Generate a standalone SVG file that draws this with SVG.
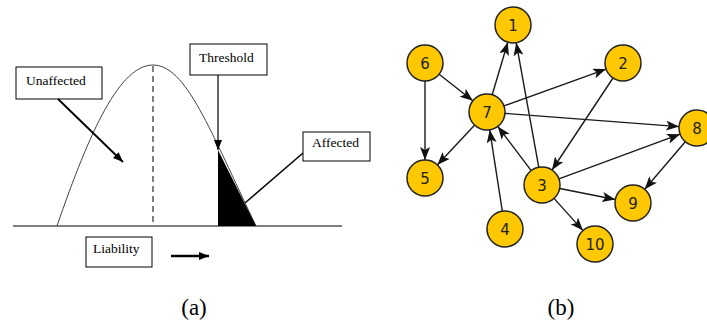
<svg xmlns="http://www.w3.org/2000/svg" width="707" height="326" viewBox="0 0 707 326">
<style>
.lbl{font-family:"Liberation Serif","Times New Roman",serif;font-size:13.5px;fill:#000}
.box{fill:#fff;stroke:#000;stroke-width:1}
.node circle{fill:#FFC800;stroke:#222;stroke-width:1.5}
.node text{font-family:"DejaVu Sans",sans-serif;font-size:15px;fill:#222;text-anchor:middle}
.edge{stroke:#1a1a1a;stroke-width:1.4;fill:none;marker-end:url(#ah)}
.cap{font-family:"Liberation Serif","Times New Roman",serif;font-size:23px;fill:#000;text-anchor:middle}
</style>
<defs>
<marker id="ah" markerUnits="userSpaceOnUse" markerWidth="14" markerHeight="11" refX="13" refY="5" orient="auto">
<path d="M0,0 L13,5 L0,10 L3,5 z" fill="#111"/>
</marker>
<marker id="ah2" markerUnits="userSpaceOnUse" markerWidth="12" markerHeight="10" refX="10" refY="4" orient="auto">
<path d="M0,0 L10,4 L0,8 z" fill="#000"/>
</marker>
</defs>
<rect width="707" height="326" fill="#fff"/>
<g id="panel-a">
<line x1="13" y1="226" x2="342" y2="226" stroke="#000" stroke-width="1"/>
<path d="M57,226 C90,130 120,65 153,65 C186,65 210,130 256,226" fill="none" stroke="#444" stroke-width="1"/>
<line x1="153" y1="66" x2="153" y2="226" stroke="#000" stroke-width="1" stroke-dasharray="6,4"/>
<polygon points="218,150 256,226 218,226" fill="#000"/>
<g id="threshold">
<rect class="box" x="190" y="44" width="77" height="31"/>
<text class="lbl" x="199" y="62">Threshold</text>
<line x1="218" y1="75" x2="218" y2="150" stroke="#000" stroke-width="1.2" marker-end="url(#ah2)"/>
</g>
<g id="unaffected">
<rect class="box" x="16" y="67" width="86" height="32"/>
<text class="lbl" x="26" y="85">Unaffected</text>
<line x1="58" y1="99" x2="123" y2="162" stroke="#000" stroke-width="1.8" marker-end="url(#ah2)"/>
</g>
<g id="affected">
<rect class="box" x="303" y="132" width="67" height="29"/>
<text class="lbl" x="312" y="147">Affected</text>
<line x1="303" y1="153" x2="245" y2="203" stroke="#000" stroke-width="1.5"/>
</g>
<g id="liability">
<rect class="box" x="86" y="237" width="66" height="30"/>
<text class="lbl" x="93" y="253">Liability</text>
<line x1="171" y1="256" x2="209" y2="256" stroke="#000" stroke-width="2.5" marker-end="url(#ah2)"/>
</g>
</g>
<g id="edges">
<line class="edge" x1="439.1" y1="74.2" x2="472.9" y2="100.8"/>
<line class="edge" x1="425" y1="81" x2="425" y2="160"/>
<line class="edge" x1="492.2" y1="94.8" x2="507.8" y2="42.2"/>
<line class="edge" x1="503.9" y1="105.9" x2="606.1" y2="69.1"/>
<line class="edge" x1="504.9" y1="113.4" x2="679.1" y2="126.6"/>
<line class="edge" x1="474.7" y1="125.1" x2="437.3" y2="164.9"/>
<line class="edge" x1="613" y1="78" x2="552" y2="170"/>
<line class="edge" x1="538.8" y1="167.3" x2="516.2" y2="42.7"/>
<line class="edge" x1="531.2" y1="170.6" x2="497.8" y2="126.4"/>
<line class="edge" x1="558.9" y1="178.8" x2="680.1" y2="134.2"/>
<line class="edge" x1="559.7" y1="188.5" x2="615.3" y2="199.5"/>
<line class="edge" x1="554" y1="198.4" x2="583" y2="230.6"/>
<line class="edge" x1="502.3" y1="211.2" x2="489.7" y2="129.8"/>
<line class="edge" x1="685.3" y1="141.7" x2="644.7" y2="189.3"/>
</g>
<g id="n1" class="node"><circle cx="513" cy="25" r="18"/><text x="513" y="30.5">1</text></g>
<g id="n2" class="node"><circle cx="623" cy="63" r="18"/><text x="623" y="68.5">2</text></g>
<g id="n3" class="node"><circle cx="542" cy="185" r="18"/><text x="542" y="190.5">3</text></g>
<g id="n4" class="node"><circle cx="505" cy="229" r="18"/><text x="505" y="234.5">4</text></g>
<g id="n5" class="node"><circle cx="425" cy="178" r="18"/><text x="425" y="183.5">5</text></g>
<g id="n6" class="node"><circle cx="425" cy="63" r="18"/><text x="425" y="68.5">6</text></g>
<g id="n7" class="node"><circle cx="487" cy="112" r="18"/><text x="487" y="117.5">7</text></g>
<g id="n8" class="node"><circle cx="697" cy="128" r="18"/><text x="697" y="133.5">8</text></g>
<g id="n9" class="node"><circle cx="633" cy="203" r="18"/><text x="633" y="208.5">9</text></g>
<g id="n10" class="node"><circle cx="595" cy="244" r="18"/><text x="595" y="249.5">10</text></g>
<text class="cap" x="194" y="315">(a)</text>
<text class="cap" x="561" y="315">(b)</text>
</svg>
